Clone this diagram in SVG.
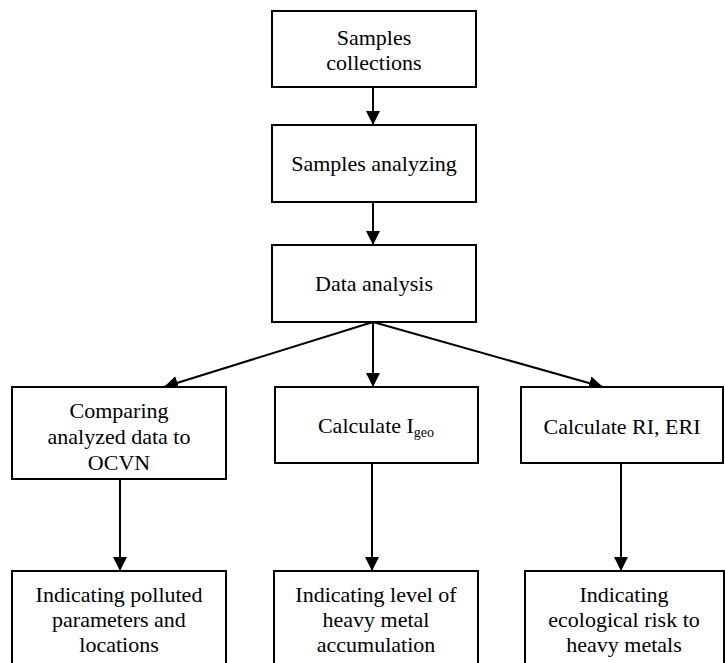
<svg xmlns="http://www.w3.org/2000/svg" width="725" height="663" viewBox="0 0 725 663">
<style>
.box{fill:#fff;stroke:#000;stroke-width:2}
.t{font-family:'Liberation Serif','Times New Roman',Times,'DejaVu Serif',serif;font-size:22px;fill:#000;text-anchor:middle}
.c{stroke:#000;stroke-width:2;fill:none}
</style>
<defs>
<marker id="ah" markerUnits="userSpaceOnUse" markerWidth="14" markerHeight="14" viewBox="0 0 14 14" refX="14" refY="7" orient="auto">
<path d="M0,0 L14,7 L0,14 Z" fill="#000"/>
</marker>
</defs>
<rect width="725" height="663" fill="#fff"/>
<g id="connectors">
<line class="c" x1="373" y1="87" x2="373" y2="125" marker-end="url(#ah)"/>
<line class="c" x1="373" y1="202" x2="373" y2="245" marker-end="url(#ah)"/>
<line class="c" x1="373" y1="322" x2="164" y2="387" marker-end="url(#ah)"/>
<line class="c" x1="373" y1="322" x2="373" y2="387" marker-end="url(#ah)"/>
<line class="c" x1="373" y1="322" x2="603" y2="387" marker-end="url(#ah)"/>
<line class="c" x1="120" y1="479" x2="120" y2="571" marker-end="url(#ah)"/>
<line class="c" x1="372" y1="463" x2="372" y2="571" marker-end="url(#ah)"/>
<line class="c" x1="621" y1="463" x2="621" y2="571" marker-end="url(#ah)"/>
</g>
<g id="n1">
<rect class="box" x="272" y="11" width="204" height="76"/>
<text class="t" x="374" y="45" font-family="Liberation Serif, serif">Samples</text>
<text class="t" x="374" y="70" font-family="Liberation Serif, serif">collections</text>
</g>
<g id="n2">
<rect class="box" x="272" y="125" width="204" height="77"/>
<text class="t" x="374" y="171">Samples analyzing</text>
</g>
<g id="n3">
<rect class="box" x="272" y="245" width="204" height="77"/>
<text class="t" x="374" y="291">Data analysis</text>
</g>
<g id="n4">
<rect class="box" x="12" y="387" width="214" height="92"/>
<text class="t" x="119" y="418">Comparing</text>
<text class="t" x="119" y="444">analyzed data to</text>
<text class="t" x="119" y="470">OCVN</text>
</g>
<g id="n5">
<rect class="box" x="275" y="387" width="203" height="76"/>
<text class="t" x="376" y="433">Calculate I<tspan font-size="14" dy="4">geo</tspan></text>
</g>
<g id="n6">
<rect class="box" x="521" y="387" width="202" height="76"/>
<text class="t" x="622" y="434">Calculate RI, ERI</text>
</g>
<g id="n7">
<rect class="box" x="12" y="571" width="214" height="100"/>
<text class="t" x="119" y="602">Indicating polluted</text>
<text class="t" x="119" y="627">parameters and</text>
<text class="t" x="119" y="652">locations</text>
</g>
<g id="n8">
<rect class="box" x="274" y="571" width="204" height="100"/>
<text class="t" x="376" y="602">Indicating level of</text>
<text class="t" x="376" y="627">heavy metal</text>
<text class="t" x="376" y="652">accumulation</text>
</g>
<g id="n9">
<rect class="box" x="525" y="571" width="199" height="100"/>
<text class="t" x="624" y="602">Indicating</text>
<text class="t" x="624" y="627">ecological risk to</text>
<text class="t" x="624" y="652">heavy metals</text>
</g>
</svg>
